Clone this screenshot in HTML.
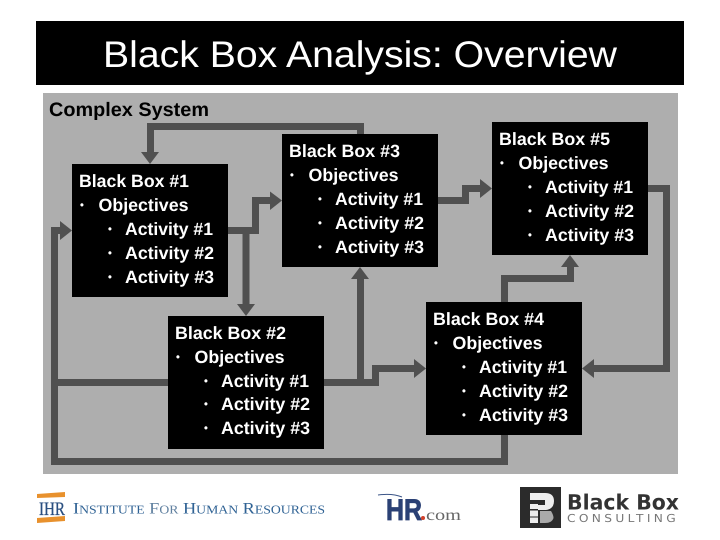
<!DOCTYPE html>
<html><head><meta charset="utf-8"><style>
html,body{margin:0;padding:0;background:#fff;width:720px;height:540px;overflow:hidden}
svg{display:block;text-rendering:geometricPrecision}
.b{font:bold 17.8px "Liberation Sans",sans-serif;fill:#fff}
.d{font:bold 11px "Liberation Sans",sans-serif;fill:#fff}
.l{fill:none;stroke:#505050;stroke-width:7;stroke-linejoin:miter}
</style></head><body>
<svg width="720" height="540" viewBox="0 0 720 540" xmlns="http://www.w3.org/2000/svg">
<rect x="36" y="21" width="648" height="64" fill="#000"/>
<text x="103" y="67" font-family="Liberation Sans, sans-serif" font-size="37" fill="#fff" textLength="514" lengthAdjust="spacingAndGlyphs">Black Box Analysis: Overview</text>
<rect x="43" y="93" width="635" height="381" fill="#aeaeae"/>
<text x="49" y="116" font-family="Liberation Sans, sans-serif" font-weight="bold" font-size="19.500" fill="#000" textLength="160" lengthAdjust="spacingAndGlyphs">Complex System</text>

<path class="l" d="M150.500 154V126.500H360.500V134"/>
<path class="l" d="M61 230.500H54.500V461.500H504.500V435"/>
<path class="l" d="M54.500 382.500H168"/>
<path class="l" d="M324 382.500H375.500V368.500H415"/>
<path class="l" d="M360.500 382.500V278"/>
<path class="l" d="M228 230.500H255.500V200.500H271"/>
<path class="l" d="M246 230.500V305"/>
<path class="l" d="M438 200.500H465.500V188.500H481"/>
<path class="l" d="M504.500 302V278.500H570.500V266"/>
<path class="l" d="M648 188.500H666.500V368.500H593"/>
<g fill="#505050">
<polygon points="141,152 159,152 150,164"/>
<polygon points="60,221 72,230.500 60,240"/>
<polygon points="270,191.500 282,200.500 270,210"/>
<polygon points="237,304 255,304 246,316"/>
<polygon points="351,279 369,279 360,267"/>
<polygon points="480,179 492,188.500 480,198"/>
<polygon points="561,267 579,267 570,255"/>
<polygon points="594,359 582,368.500 594,378"/>
<polygon points="414,359 426,368.500 414,378"/>
</g>

<g transform="translate(72,164)">
<rect width="156" height="133" fill="#000"/>
<text class="b" x="7" y="23" textLength="110" lengthAdjust="spacingAndGlyphs">Black Box #1</text>
<text class="d" x="8" y="44.700">•</text><text class="b" x="26.500" y="47" textLength="90" lengthAdjust="spacingAndGlyphs">Objectives</text>
<text class="d" x="36" y="68.700">•</text><text class="b" x="53" y="71" textLength="88" lengthAdjust="spacingAndGlyphs">Activity #1</text>
<text class="d" x="36" y="92.700">•</text><text class="b" x="53" y="95" textLength="89" lengthAdjust="spacingAndGlyphs">Activity #2</text>
<text class="d" x="36" y="116.700">•</text><text class="b" x="53" y="119" textLength="89" lengthAdjust="spacingAndGlyphs">Activity #3</text>
</g>
<g transform="translate(168,316)">
<rect width="156" height="133" fill="#000"/>
<text class="b" x="7" y="23" textLength="111" lengthAdjust="spacingAndGlyphs">Black Box #2</text>
<text class="d" x="8" y="44.700">•</text><text class="b" x="26.500" y="47" textLength="90" lengthAdjust="spacingAndGlyphs">Objectives</text>
<text class="d" x="36" y="68.700">•</text><text class="b" x="53" y="71" textLength="88" lengthAdjust="spacingAndGlyphs">Activity #1</text>
<text class="d" x="36" y="91.700">•</text><text class="b" x="53" y="94" textLength="89" lengthAdjust="spacingAndGlyphs">Activity #2</text>
<text class="d" x="36" y="115.700">•</text><text class="b" x="53" y="118" textLength="89" lengthAdjust="spacingAndGlyphs">Activity #3</text>
</g>
<g transform="translate(282,134)">
<rect width="156" height="133" fill="#000"/>
<text class="b" x="7" y="23" textLength="111" lengthAdjust="spacingAndGlyphs">Black Box #3</text>
<text class="d" x="8" y="44.700">•</text><text class="b" x="26.500" y="47" textLength="90" lengthAdjust="spacingAndGlyphs">Objectives</text>
<text class="d" x="36" y="68.700">•</text><text class="b" x="53" y="71" textLength="88" lengthAdjust="spacingAndGlyphs">Activity #1</text>
<text class="d" x="36" y="92.700">•</text><text class="b" x="53" y="95" textLength="89" lengthAdjust="spacingAndGlyphs">Activity #2</text>
<text class="d" x="36" y="116.700">•</text><text class="b" x="53" y="119" textLength="89" lengthAdjust="spacingAndGlyphs">Activity #3</text>
</g>
<g transform="translate(492,122)">
<rect width="156" height="133" fill="#000"/>
<text class="b" x="7" y="23" textLength="111" lengthAdjust="spacingAndGlyphs">Black Box #5</text>
<text class="d" x="8" y="44.700">•</text><text class="b" x="26.500" y="47" textLength="90" lengthAdjust="spacingAndGlyphs">Objectives</text>
<text class="d" x="36" y="68.700">•</text><text class="b" x="53" y="71" textLength="88" lengthAdjust="spacingAndGlyphs">Activity #1</text>
<text class="d" x="36" y="92.700">•</text><text class="b" x="53" y="95" textLength="89" lengthAdjust="spacingAndGlyphs">Activity #2</text>
<text class="d" x="36" y="116.700">•</text><text class="b" x="53" y="119" textLength="89" lengthAdjust="spacingAndGlyphs">Activity #3</text>
</g>
<g transform="translate(426,302)">
<rect width="156" height="133" fill="#000"/>
<text class="b" x="7" y="23" textLength="111" lengthAdjust="spacingAndGlyphs">Black Box #4</text>
<text class="d" x="8" y="44.700">•</text><text class="b" x="26.500" y="47" textLength="90" lengthAdjust="spacingAndGlyphs">Objectives</text>
<text class="d" x="36" y="68.700">•</text><text class="b" x="53" y="71" textLength="88" lengthAdjust="spacingAndGlyphs">Activity #1</text>
<text class="d" x="36" y="92.700">•</text><text class="b" x="53" y="95" textLength="89" lengthAdjust="spacingAndGlyphs">Activity #2</text>
<text class="d" x="36" y="116.700">•</text><text class="b" x="53" y="119" textLength="89" lengthAdjust="spacingAndGlyphs">Activity #3</text>
</g>

<!-- IHR logo -->
<polygon points="37,494 65,492 65,497 37,498" fill="#e8912d"/>
<polygon points="37,518 65,516 65,521 37,523" fill="#e8912d"/>
<text x="39" y="515" font-family="Liberation Serif, serif" font-size="19" fill="#2a4f80" stroke="#2a4f80" stroke-width="0.300" textLength="26" lengthAdjust="spacingAndGlyphs">IHR</text>
<text x="73" y="513.500" font-family="Liberation Serif, serif" font-size="16" fill="#2f6294" textLength="252" lengthAdjust="spacingAndGlyphs">I<tspan font-size="12">NSTITUTE</tspan> <tspan fill="#5f7f9f">F</tspan><tspan font-size="12" fill="#5f7f9f">OR</tspan> H<tspan font-size="12">UMAN</tspan> R<tspan font-size="12">ESOURCES</tspan></text>

<!-- HR.com logo -->
<path d="M378 495Q392 493 402 497" fill="none" stroke="#3b5587" stroke-width="1"/>
<text x="386" y="520" font-family="Liberation Sans, sans-serif" font-weight="bold" font-size="30" fill="#2b4175" stroke="#2b4175" stroke-width="0.800" textLength="36" lengthAdjust="spacingAndGlyphs">HR</text>
<circle cx="423" cy="518" r="2" fill="#d0402a"/>
<text x="426" y="520" font-family="Liberation Serif, serif" font-size="16" fill="#666" textLength="35" lengthAdjust="spacingAndGlyphs">com</text>

<!-- Black Box Consulting logo -->
<rect x="520" y="487" width="41" height="41" fill="#2b2b2b"/>
<path d="M530 493H545Q554 493 554 501Q554 509 546 510H538V505H545V500H530Z" fill="#eee"/>
<rect x="530" y="504" width="8" height="5" fill="#eee"/>
<rect x="530" y="510.500" width="8" height="6" fill="#eee"/>
<rect x="530" y="517.500" width="8" height="5.500" fill="#eee"/>
<path d="M540 511H551Q553.500 515 553.500 518Q552 523 545 523H540Z" fill="#aaa"/>
<text x="567" y="509.500" font-family="DejaVu Sans, sans-serif" font-weight="bold" font-size="21" fill="#333" textLength="112" lengthAdjust="spacingAndGlyphs">Black Box</text>
<text x="567" y="522" font-family="DejaVu Sans, sans-serif" font-size="11" fill="#777" textLength="112" lengthAdjust="spacingAndGlyphs" letter-spacing="3">CONSULTING</text>
</svg>
</body></html>
